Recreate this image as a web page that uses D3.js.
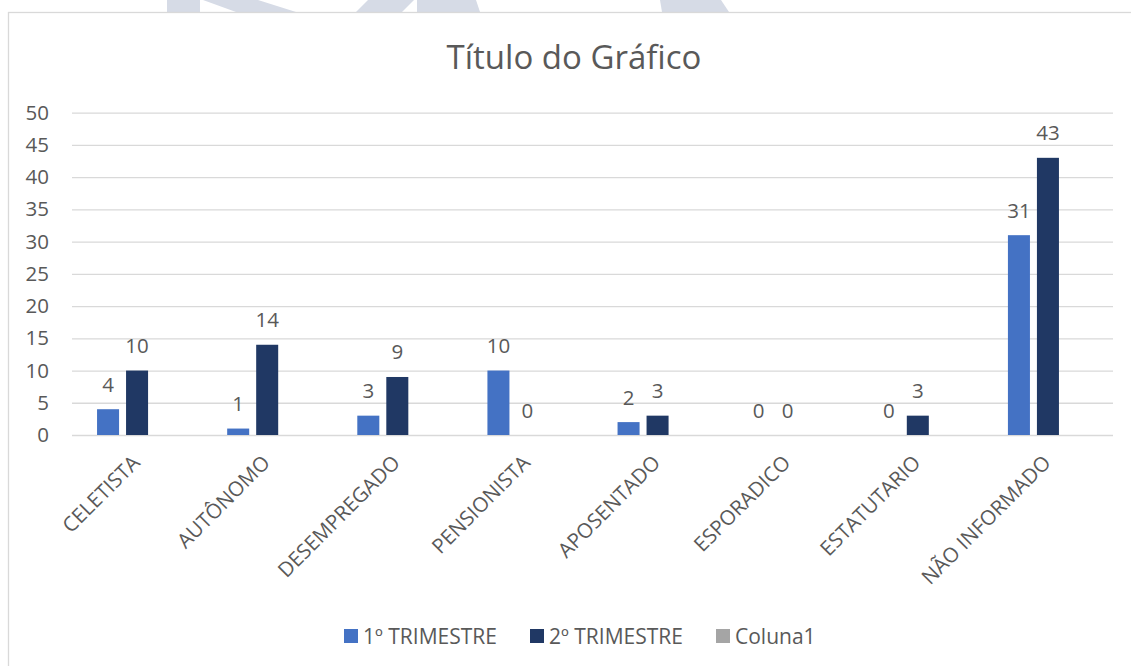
<!DOCTYPE html>
<html>
<head>
<meta charset="utf-8">
<script src="https://cdn.jsdelivr.net/npm/d3@7"></script>
<style>
  html, body { margin: 0; padding: 0; background: #ffffff; }
  svg { display: block; }
  text { font-family: "Open Sans", "Noto Sans", sans-serif; fill: #595959; }
</style>
</head>
<body>
<script>
const categories = ["CELETISTA", "AUTÔNOMO", "DESEMPREGADO", "PENSIONISTA", "APOSENTADO", "ESPORADICO", "ESTATUTARIO", "NÃO INFORMADO"];
const seriesNames = ["1º TRIMESTRE", "2º TRIMESTRE", "Coluna1"];
const trimestre1 = [4, 1, 3, 10, 2, 0, 0, 31];
const trimestre2 = [10, 14, 9, 0, 3, 0, 3, 43];
const coluna1 = [null, null, null, null, null, null, null, null];
const yTicks = [0, 5, 10, 15, 20, 25, 30, 35, 40, 45, 50];
const seriesColors = ["#4472C4", "#203864", "#A5A5A5"];
const title = "Título do Gráfico";

const W = 1131, H = 666;
const svg = d3.select("body").append("svg").attr("width", W).attr("height", H);

// watermark shapes above the chart frame
const wm = [
  [[167,0],[200,0],[200,12],[167,12]],
  [[203,0],[258,0],[296,12],[236,12]],
  [[368,0],[414,0],[402,12],[356,12]],
  [[417,0],[476,0],[480,12],[417,12]],
  [[660,0],[721,0],[729,12],[662,12]]
];
svg.selectAll("path.wm").data(wm).join("path")
  .attr("class", "wm")
  .attr("d", d => d3.line()(d) + "Z")
  .attr("fill", "#d6dbe6");

// chart frame
svg.append("rect")
  .attr("x", 8.5).attr("y", 12.5)
  .attr("width", 1140).attr("height", 700)
  .attr("fill", "#ffffff").attr("stroke", "#d9d9d9").attr("stroke-width", 1.3);

const plot = { left: 72, right: 1113, top: 112.7, bottom: 435 };

const x0 = d3.scaleBand().domain(categories)
  .range([plot.left, plot.right])
  .paddingInner(0.385).paddingOuter(0.1925);
const x1 = d3.scaleBand().domain(seriesNames)
  .range([0, x0.bandwidth()])
  .paddingInner(0.241).paddingOuter(0);
const y = d3.scaleLinear().domain([0, 50]).range([plot.bottom, plot.top]);

// title
svg.append("text")
  .attr("x", 574)
  .attr("y", 69)
  .attr("text-anchor", "middle")
  .attr("font-size", 33)
  .text(title);

// gridlines
const grid = svg.append("g").attr("transform", `translate(${plot.left},0)`)
  .call(d3.axisLeft(y).tickValues(yTicks).tickSize(-(plot.right - plot.left)).tickFormat(""));
grid.select(".domain").remove();
grid.selectAll("line").attr("stroke", "#d9d9d9").attr("stroke-width", 1.3);

// y axis labels
const yAxis = svg.append("g").attr("transform", `translate(${plot.left},0)`)
  .call(d3.axisLeft(y).tickValues(yTicks).tickSize(0).tickPadding(23));
yAxis.select(".domain").remove();
yAxis.selectAll("text")
  .attr("font-size", 20.5)
  .attr("font-family", '"Open Sans", sans-serif')
  .attr("fill", "#595959");

// x axis labels
const xAxis = svg.append("g").attr("transform", `translate(0,${plot.bottom})`)
  .call(d3.axisBottom(x0).tickSize(0));
xAxis.select(".domain").remove();
xAxis.selectAll("text")
  .attr("font-size", 20.5)
  .attr("font-family", '"Open Sans", sans-serif')
  .attr("fill", "#595959")
  .attr("x", 0).attr("y", 0).attr("dy", 0)
  .attr("text-anchor", "end")
  .attr("transform", "translate(4,29) rotate(-45)");

// bars
const series = [trimestre1, trimestre2, coluna1];
const rows = [];
categories.forEach((c, i) => {
  series.forEach((s, j) => {
    if (s[i] !== null && s[i] !== undefined) rows.push({ cat: c, name: seriesNames[j], value: s[i], color: seriesColors[j] });
  });
});

svg.append("g").selectAll("rect").data(rows).join("rect")
  .attr("x", d => x0(d.cat) + x1(d.name))
  .attr("y", d => y(d.value))
  .attr("width", x1.bandwidth())
  .attr("height", d => y(0) - y(d.value))
  .attr("fill", d => d.color);

svg.append("g").selectAll("text").data(rows).join("text")
  .attr("x", d => x0(d.cat) + x1(d.name) + x1.bandwidth() / 2)
  .attr("y", d => y(d.value) - 17.5)
  .attr("text-anchor", "middle")
  .attr("font-size", 20.5)
  .attr("fill", "#404040")
  .text(d => d.value);

// legend
const legendX = [344, 530, 716];
const lg = svg.append("g").selectAll("g").data(seriesNames).join("g")
  .attr("transform", (d, i) => `translate(${legendX[i]},629)`);
lg.append("rect").attr("width", 14).attr("height", 14).attr("fill", (d, i) => seriesColors[i]);
lg.append("text").attr("x", 19).attr("y", 14.5).attr("font-size", 21).text(d => d);
</script>
</body>
</html>
